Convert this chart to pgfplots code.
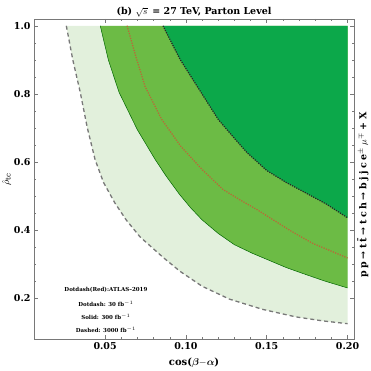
\documentclass[border=0pt]{standalone}
\usepackage{amsmath}
\usepackage{pgfplots}
\pgfplotsset{compat=1.18}
\usepackage{fontspec}
\setmainfont{DejaVu Serif}
\definecolor{lightg}{RGB}{226,240,220}
\definecolor{medg}{RGB}{108,187,69}
\definecolor{darkg}{RGB}{12,168,74}
\definecolor{framegray}{RGB}{120,120,120}
\definecolor{redline}{RGB}{185,105,55}
\begin{document}
\begin{tikzpicture}
\begin{axis}[
  name=ax,
  scale only axis,
  width=320pt, height=320pt,
  xmin=0.006, xmax=0.204,
  ymin=0.08, ymax=1.02,
  xtick={0.05,0.10,0.15,0.20},
  ytick={0.2,0.4,0.6,0.8,1.0},
  minor x tick num=4,
  minor y tick num=3,
  tick align=inside,
  major tick length=4pt, minor tick length=2pt,
  axis line style={framegray, line width=0.9pt},
  every tick/.style={framegray, line width=0.5pt},
  /pgf/number format/assume math mode=true,
  ticklabel style={font=\bfseries\fontsize{9.5}{11}\selectfont},
  xticklabel style={/pgf/number format/.cd, fixed, fixed zerofill, precision=2},
  yticklabel style={/pgf/number format/.cd, fixed, fixed zerofill, precision=1},
  xlabel={\bfseries cos($\boldsymbol{\beta}{-}\boldsymbol{\alpha}$)},
  ylabel={$\hat{\rho}_{\mathrm{tc}}$},
  label style={font=\fontsize{10}{12}\selectfont},
  xlabel style={yshift=-1pt},
  ylabel style={yshift=-4pt},
  title={\bfseries (b) $\sqrt{s}$\, = 27 TeV, Parton Level},
  every axis title/.style={at={(0.5,1)}, anchor=south, inner sep=0pt, yshift=2pt,
    font=\fontsize{9.5}{11}\selectfont},
  clip=true,
]
% 3000 fb^-1 region (dashed)
\addplot[fill=lightg, draw=none] coordinates {
  (0.026,1.0) (0.030,0.90) (0.0346,0.805) (0.039,0.70) (0.0438,0.607)
  (0.049,0.54) (0.056,0.48) (0.063,0.43) (0.0716,0.38) (0.0858,0.32)
  (0.0963,0.279) (0.110,0.235) (0.127,0.197) (0.1475,0.167) (0.168,0.145)
  (0.185,0.133) (0.20,0.125) (0.20,1.0)} -- cycle;
% 300 fb^-1 region (solid)
\addplot[fill=medg, draw=none] coordinates {
  (0.047,1.0) (0.052,0.90) (0.0586,0.805) (0.0698,0.696) (0.081,0.607)
  (0.088,0.557) (0.096,0.505) (0.103,0.465) (0.110,0.43) (0.120,0.39)
  (0.130,0.357) (0.141,0.332) (0.152,0.31) (0.162,0.29) (0.172,0.273)
  (0.186,0.25) (0.20,0.23) (0.20,1.0)} -- cycle;
% 30 fb^-1 region (dotdash)
\addplot[fill=darkg, draw=none] coordinates {
  (0.0858,1.0) (0.0963,0.902) (0.107,0.822) (0.120,0.725) (0.129,0.675)
  (0.1377,0.628) (0.150,0.575) (0.162,0.54) (0.173,0.512) (0.187,0.476)
  (0.20,0.436) (0.20,1.0)} -- cycle;
% boundary lines
\addplot[framegray, line width=1.3pt, dash pattern=on 4pt off 3pt] coordinates {
  (0.026,1.0) (0.030,0.90) (0.0346,0.805) (0.039,0.70) (0.0438,0.607)
  (0.049,0.54) (0.056,0.48) (0.063,0.43) (0.0716,0.38) (0.0858,0.32)
  (0.0963,0.279) (0.110,0.235) (0.127,0.197) (0.1475,0.167) (0.168,0.145)
  (0.185,0.133) (0.20,0.125)};
\addplot[green!40!black, line width=0.5pt] coordinates {
  (0.047,1.0) (0.052,0.90) (0.0586,0.805) (0.0698,0.696) (0.081,0.607)
  (0.088,0.557) (0.096,0.505) (0.103,0.465) (0.110,0.43) (0.120,0.39)
  (0.130,0.357) (0.141,0.332) (0.152,0.31) (0.162,0.29) (0.172,0.273)
  (0.186,0.25) (0.20,0.23)};
\addplot[black!85, line width=1.2pt, dash pattern=on 1.2pt off 1.2pt] coordinates {
  (0.0858,1.0) (0.0963,0.902) (0.107,0.822) (0.120,0.725) (0.129,0.675)
  (0.1377,0.628) (0.150,0.575) (0.162,0.54) (0.173,0.512) (0.187,0.476)
  (0.20,0.436)};
\addplot[redline, line width=1.3pt, dash pattern=on 1.2pt off 1.3pt] coordinates {
  (0.0636,1.0) (0.069,0.91) (0.0747,0.822) (0.085,0.725) (0.097,0.645)
  (0.110,0.578) (0.123,0.519) (0.133,0.49) (0.144,0.46) (0.164,0.40)
  (0.178,0.362) (0.20,0.318)};
% annotations
\node[font=\bfseries\fontsize{5.5}{6}\selectfont] at (axis cs:0.0505,0.225) {Dotdash(Red):ATLAS{\textendash}2019};
\node[font=\bfseries\fontsize{5.5}{6}\selectfont] at (axis cs:0.0505,0.184) {Dotdash: 30 fb$^{-1}$};
\node[font=\bfseries\fontsize{5.5}{6}\selectfont] at (axis cs:0.0505,0.146) {Solid: 300 fb$^{-1}$};
\node[font=\bfseries\fontsize{5.5}{6}\selectfont] at (axis cs:0.0505,0.108) {Dashed: 3000 fb$^{-1}$};
\end{axis}
\node[rotate=90, font=\bfseries\fontsize{9.5}{11}\selectfont, anchor=center]
  at ([xshift=9pt,yshift=-16pt]ax.east)
  {p\hspace{2.5pt}p\hspace{2.5pt}→\hspace{2.5pt}t\hspace{2.5pt}t̄\hspace{2.5pt}→\hspace{2.5pt}t\hspace{2.5pt}c\hspace{2.5pt}h\hspace{2.5pt}→\hspace{2.5pt}b\hspace{2.5pt}j\hspace{2.5pt}j\hspace{2.5pt}c\hspace{2.5pt}e$^{\pm}$\hspace{2.5pt}$\mu^{\mp}$\hspace{2.5pt}+\hspace{2.5pt}X};
\pgfresetboundingbox
\path ([xshift=-34pt,yshift=-32pt]ax.south west) rectangle ([xshift=17pt,yshift=19pt]ax.north east);
\end{tikzpicture}
\end{document}
